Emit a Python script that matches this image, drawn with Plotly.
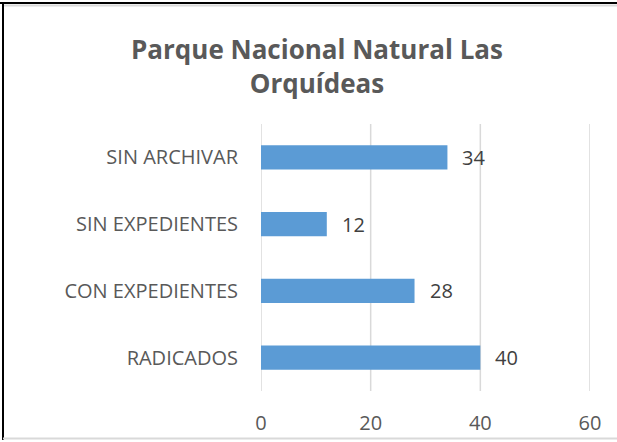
import plotly.graph_objects as go

categories = ["RADICADOS", "CON EXPEDIENTES", "SIN EXPEDIENTES", "SIN ARCHIVAR"]
values = [40, 28, 12, 34]
x_ticks = [0, 20, 40, 60]
title_lines = ["Parque Nacional Natural Las", "Orquídeas"]

W, H = 617, 442
L, R, T, B = 261, 27, 124, 51
pw, ph = W - L - R, H - T - B

def px_x(p):
    return (p - L) / pw

def px_y(p):
    return (H - B - p) / ph

txt = "#595959"
font_family = "Open Sans, Liberation Sans, sans-serif"

fig = go.Figure(go.Bar(
    x=values, y=categories, orientation="h",
    marker=dict(color="#5B9BD5", line=dict(width=0)),
    width=0.36,
))

for c, v in zip(categories, values):
    fig.add_annotation(x=v, y=c, text=str(v), showarrow=False, xanchor="left",
                       xshift=13, font=dict(size=20, color="#404040", family=font_family))

fig.add_annotation(xref="paper", yref="paper", x=px_x(317), y=px_y(66),
                   text="<b>" + "<br>".join(title_lines) + "</b>", showarrow=False,
                   xanchor="center", yanchor="middle", align="center",
                   font=dict(size=26, color=txt, family=font_family))

shapes = [
    dict(type="line", xref="paper", yref="paper", x0=px_x(0), x1=px_x(W), y0=px_y(3), y1=px_y(3),
         line=dict(color="black", width=2)),
    dict(type="line", xref="paper", yref="paper", x0=px_x(4), x1=px_x(W), y0=px_y(5.5), y1=px_y(5.5),
         line=dict(color="#d9d9d9", width=2)),
    dict(type="line", xref="paper", yref="paper", x0=px_x(3), x1=px_x(3), y0=px_y(2), y1=px_y(440),
         line=dict(color="black", width=2)),
    dict(type="line", xref="paper", yref="paper", x0=px_x(3), x1=px_x(W), y0=px_y(438.5), y1=px_y(438.5),
         line=dict(color="#d9d9d9", width=2)),
]
for t in x_ticks:
    shapes.append(dict(type="line", xref="x", yref="paper", x0=t, x1=t, y0=0, y1=1,
                       line=dict(color="#d9d9d9", width=1.5), layer="below"))

fig.update_layout(
    width=W, height=H,
    margin=dict(l=L, r=R, t=T, b=B, autoexpand=False),
    paper_bgcolor="white", plot_bgcolor="white",
    showlegend=False,
    shapes=shapes,
    xaxis=dict(range=[0, 60], tickvals=x_ticks, showgrid=False,
               zeroline=False, showline=False, ticks="", ticklabelstandoff=18,
               tickfont=dict(size=20, color=txt, family=font_family), fixedrange=True),
    yaxis=dict(categoryorder="array", categoryarray=categories, showgrid=False, zeroline=False,
               showline=False, ticks="", ticklabelstandoff=22,
               tickfont=dict(size=20, color=txt, family=font_family)),
)

fig.write_html("out.html", config={"displayModeBar": False},
               post_script="document.body.style.margin='0';document.body.style.padding='0';")
